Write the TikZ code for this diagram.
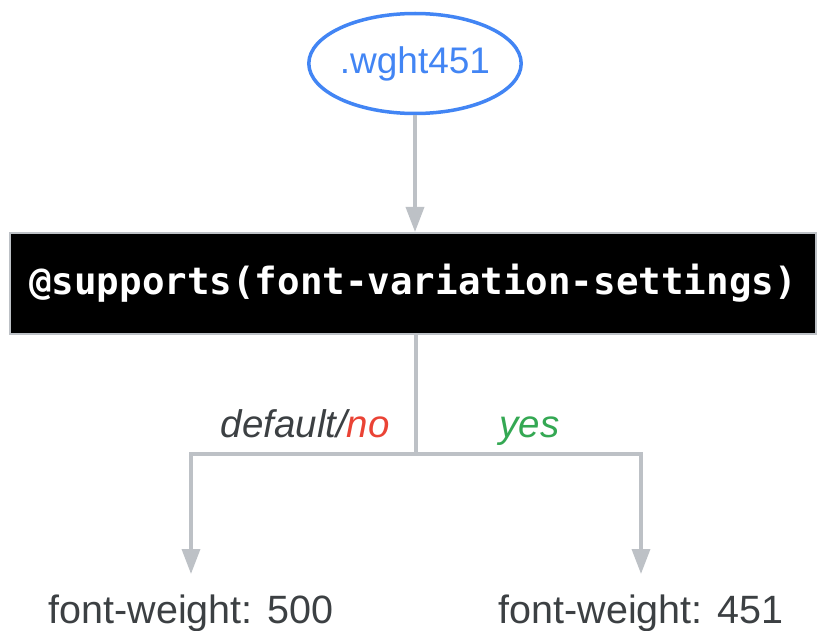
\documentclass[tikz,border=0pt]{standalone}
\usepackage{fontspec}
\setmainfont{Liberation Sans}
\setmonofont{DejaVu Sans Mono}
\usetikzlibrary{arrows.meta,shapes.geometric}
\definecolor{gblue}{HTML}{4285F4}
\definecolor{gred}{HTML}{EA4335}
\definecolor{ggreen}{HTML}{34A853}
\definecolor{gtext}{HTML}{3C4043}
\definecolor{gline}{HTML}{BDC1C6}
\tikzset{
  conn/.style={draw=gline, line width=3.5pt},
  arr/.style={conn, -{Triangle[width=18pt,length=25pt]}},
  result/.style={anchor=base, text=gtext, font=\fontsize{39.5}{42}\selectfont, inner sep=0pt, text height=28pt, text depth=8pt, outer ysep=21pt},
  lbl/.style={anchor=base, inner sep=0pt, font=\fontsize{38.5}{42}\selectfont\itshape},
}
\begin{document}
\begin{tikzpicture}[x=1pt,y=-1pt]
\useasboundingbox (0,0) rectangle (817,631);
\node[ellipse, draw=gblue, line width=3.5pt, minimum width=207pt, minimum height=100pt, inner sep=0pt, text=gblue, font=\fontsize{37}{40}\selectfont] (start) at (415,63.5) {.wght451};
\node[rectangle, fill=black, draw=gline, line width=2pt, minimum width=806pt, minimum height=101pt, inner sep=0pt, text=white, font=\fontsize{37.5}{40}\selectfont\ttfamily\bfseries] (box) at (413,283.5) {@supports(font-variation-settings)};
\coordinate (junc) at (416,454);
\node[result] (t1) at (191,623) {font-weight: 500};
\node[result] (t2) at (641,623) {font-weight: 451};
\draw[arr] (start.south) -- (start.south |- box.north);
\draw[conn] (junc |- box.south) -- (junc);
\draw[arr] (junc) -| (t1.north);
\draw[arr] (junc) -| (t2.north);
\node[lbl, anchor=base east, text=gtext] (lno) at (390,437) {default/\textcolor{gred}{no}};
\node[lbl, text=ggreen] (lyes) at (529.5,437) {yes};
\end{tikzpicture}
\end{document}
